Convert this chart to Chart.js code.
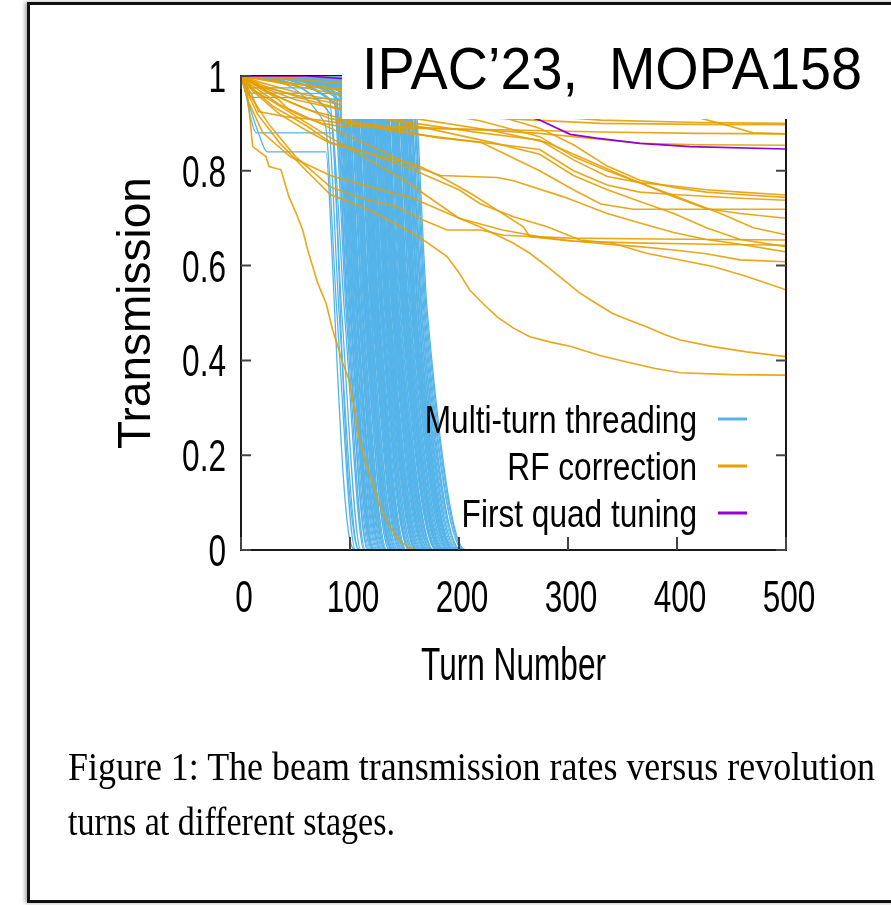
<!DOCTYPE html>
<html>
<head>
<meta charset="utf-8">
<title>Beam transmission vs turn number</title>
<script src="https://cdn.jsdelivr.net/npm/chart.js@4.4.1/dist/chart.umd.min.js"></script>
<style>
  html, body { margin: 0; padding: 0; background: #fff; }
  #page { position: relative; width: 891px; height: 905px; overflow: hidden; background: #fff; }
  #plot { position: absolute; left: 0; top: 0; }
  #note { position: absolute; left: 342px; top: 5px; width: 560px; height: 114px; background: #fff; }
  .fit { position: absolute; white-space: nowrap; transform-origin: 0 0; color: #000; }
  #noteText { left: 362px; top: 40px; font: 59px/59px "Liberation Sans", Arial, sans-serif; }
  .cap { left: 68px; font: 40px/56px "Liberation Serif", "Times New Roman", serif; }
  #frame { position: absolute; left: 27px; top: 2px; width: 900px; height: 901px; box-sizing: border-box;
           border: 3px solid #111; box-shadow: -2px 0 4px rgba(0,0,0,0.35); pointer-events: none; }
</style>
</head>
<body>
<div id="page">
  <canvas id="plot" width="891" height="905"></canvas>
  <div id="note"></div>
  <div id="noteText" class="fit" data-w="500">IPAC’23,&nbsp; MOPA158</div>
  <div class="fit cap" style="top:739px" data-w="807">Figure 1: The beam transmission rates versus revolution</div>
  <div class="fit cap" style="top:794px" data-w="327">turns at different stages.</div>
  <div id="frame"></div>
</div>
<script>
// axis ticks and labels
const turnTicks = [0, 100, 200, 300, 400, 500];
const turnTickLabels = ['0', '100', '200', '300', '400', '500'];
const valueTicks = [0, 0.2, 0.4, 0.6, 0.8, 1];
const valueTickLabels = ['0', '0.2', '0.4', '0.6', '0.8', '1'];
const legendNames = ['Multi-turn threading', 'RF correction', 'First quad tuning'];

// Multi-turn threading runs: level kept before the loss, turn where the loss starts,
// turn at 50 % transmission, turn where transmission reaches 0
const threadLevel = [0.90, 0.93, 0.95, 0.92, 0.97, 0.94, 0.96, 0.98, 0.95, 0.97,
  0.99, 0.96, 0.98, 0.97, 0.99, 0.95, 0.98, 0.96, 0.99, 0.97,
  0.98, 0.96, 0.99, 0.97, 0.98, 0.95, 0.99, 0.97, 0.98, 0.96,
  0.99, 0.97, 0.98, 0.96, 0.99, 0.97, 0.98, 0.95, 0.99, 0.97,
  0.98, 0.96, 0.99, 0.97, 0.98, 0.96, 0.99, 0.97, 0.98, 0.95,
  0.99, 0.97, 0.98, 0.96, 0.99, 0.97, 0.98, 0.96, 0.99, 0.97,
  0.98, 0.95, 0.99, 0.97, 0.98, 0.96, 0.99, 0.97, 0.98, 0.96,
  0.99, 0.97, 0.98, 0.96, 0.99, 0.97, 0.98, 0.98, 0.97, 0.99,
  0.96, 0.98, 0.97, 0.99, 0.97, 0.98, 0.96, 0.98,
  0.96, 0.94, 0.98, 0.97, 0.99, 0.98, 0.97, 0.99, 0.98, 0.97,
  0.99, 0.98, 0.97, 0.99, 0.98, 0.96, 0.99, 0.97, 0.98, 0.99,
  0.97, 0.98, 0.99, 0.97, 0.98, 0.96, 0.99, 0.98, 0.97, 0.99,
  0.98, 0.97, 0.99, 0.98, 0.97, 0.99, 0.98, 0.97, 0.99, 0.98];
const threadTop = [77, 79, 81, 82, 84, 86, 87, 88, 90, 90,
  91, 92, 93, 94, 95, 96, 97, 97, 99, 99,
  100, 102, 102, 103, 105, 105, 106, 108, 108, 109,
  111, 111, 112, 114, 114, 115, 117, 117, 118, 120,
  120, 121, 123, 123, 124, 126, 126, 127, 129, 129,
  130, 132, 132, 133, 135, 135, 136, 138, 138, 139,
  141, 141, 142, 144, 144, 145, 147, 147, 148, 150,
  150, 151, 153, 154, 155, 157, 158, 101, 110, 119,
  128, 137, 146, 113, 131, 140, 104, 122,
  86, 88, 90, 92, 94, 95, 97, 98, 101, 103,
  104, 107, 109, 110, 112, 113, 115, 118, 121, 122,
  124, 125, 127, 128, 130, 131, 134, 136, 137, 139,
  140, 143, 145, 146, 148, 149, 152, 154, 156, 116];
const threadMid = [88, 90, 92.5, 95, 96.5, 98, 99, 100.5, 101, 102.5,
  103, 104, 105.5, 106, 107, 108.5, 109, 110, 111.5, 112,
  113, 114.5, 115, 116, 117.5, 118, 119, 120.5, 121, 122,
  123.5, 124, 125, 126.5, 127, 128, 129.5, 130, 131, 132.5,
  133, 134, 135.5, 136, 137, 138.5, 139, 140, 141.5, 142,
  143, 144.5, 145, 146, 147.5, 148, 149, 150.5, 151, 152,
  153.5, 154, 155, 156.5, 157, 158, 159.5, 160, 161, 162.5,
  163, 164, 165.5, 166, 168, 170, 171, 114, 123, 132,
  141, 150, 159, 126, 144, 153, 117, 135,
  97.5, 100, 102, 104.5, 106.5, 108, 109.5, 111, 113.5, 115.5,
  116.5, 119.5, 121.5, 122.5, 124.5, 125.5, 128.5, 130.5, 133.5, 134.5,
  136.5, 137.5, 139.5, 140.5, 142.5, 143.5, 146.5, 148.5, 149.5, 151.5,
  152.5, 155.5, 157.5, 158.5, 160.5, 162, 164.5, 167, 169, 129];
const threadEnd = [105, 108, 110, 113, 114, 116, 118, 119, 121, 122,
  123, 124, 126, 127, 128, 130, 131, 132, 133, 134,
  136, 137, 138, 140, 141, 142, 144, 145, 146, 147,
  149, 150, 151, 152, 154, 155, 156, 157, 159, 160,
  161, 162, 164, 165, 166, 167, 169, 170, 171, 172,
  174, 175, 176, 177, 179, 180, 181, 182, 184, 185,
  186, 187, 189, 190, 191, 192, 194, 195, 196, 197,
  199, 200, 201, 202, 204, 205, 206, 139, 148, 158,
  170, 183, 193, 151, 174, 186, 142, 163,
  117, 120, 121, 125, 128, 129, 132, 133, 136, 139,
  140, 143, 146, 148, 150, 151, 154, 157, 161, 162,
  164, 166, 168, 169, 172, 173, 176, 179, 180, 183,
  184, 188, 190, 191, 194, 195, 198, 201, 204, 155];
// threading runs with an early plateau, as [turn, transmission]
const threadFlat1 = [[0, 1], [4, 0.97], [8, 0.92], [14, 0.88], [84, 0.88], [88, 0.7], [92, 0.45], [97, 0.2], [104, 0.03], [110, 0], [500, 0]];
const threadFlat2 = [[0, 1], [6, 0.95], [16, 0.88], [24, 0.84], [78, 0.84], [83, 0.65], [88, 0.4], [94, 0.15], [100, 0.02], [106, 0], [500, 0]];
const threadFlat3 = [[0, 1], [4, 0.975], [110, 0.975], [118, 0.6], [124, 0.3], [132, 0.05], [140, 0], [500, 0]];
const threadFlat4 = [[0, 1], [8, 0.964], [130, 0.96], [138, 0.6], [145, 0.25], [155, 0.03], [163, 0], [500, 0]];
const threadFlat5 = [[0, 1], [10, 0.955], [95, 0.95], [102, 0.6], [108, 0.3], [116, 0.05], [123, 0], [500, 0]];

// RF correction runs, as [turn, transmission]
const rfLost = [[0, 1], [4.6, 0.996], [10.7, 0.851], [22.9, 0.83], [25.7, 0.809], [36.7, 0.802], [41.3, 0.766], [44, 0.745], [50.5, 0.711], [56.6, 0.675], [61.2, 0.633], [65.8, 0.598], [70.4, 0.563], [78, 0.521], [84.1, 0.464], [89.9, 0.422], [93.3, 0.395], [99.1, 0.359], [103.7, 0.302], [108.3, 0.238], [114.7, 0.184], [120.8, 0.141], [126.6, 0.099], [134.6, 0.057], [145, 0.021], [153, 0.006], [160, 0], [500, 0]];
const rfA = [[0, 1], [5, 0.97], [15, 0.92], [35, 0.86], [60, 0.80], [82, 0.75], [120, 0.715], [152, 0.675], [170, 0.65], [189, 0.619], [200, 0.585], [210, 0.548], [222, 0.52], [235, 0.492], [250, 0.468], [265, 0.45], [285, 0.438], [302, 0.43], [330, 0.41], [357, 0.395], [380, 0.383], [403, 0.374], [450, 0.37], [500, 0.369]];
const rfB = [[0, 1], [6, 0.95], [20, 0.88], [45, 0.83], [82, 0.79], [120, 0.765], [160, 0.74], [190, 0.71], [219, 0.682], [250, 0.647], [265, 0.626], [281, 0.598], [296, 0.57], [311, 0.542], [326, 0.52], [341, 0.499], [357, 0.484], [372, 0.471], [388, 0.455], [403, 0.443], [433, 0.429], [464, 0.418], [500, 0.408]];
const rfC = [[0, 1], [10, 0.975], [30, 0.935], [60, 0.895], [82, 0.86], [120, 0.835], [160, 0.80], [200, 0.76], [219, 0.731], [250, 0.703], [281, 0.682], [311, 0.654], [341, 0.647], [372, 0.626], [403, 0.612], [433, 0.598], [464, 0.577], [500, 0.549]];
const rfD = [[0, 1], [12, 0.97], [40, 0.93], [82, 0.87], [120, 0.82], [150, 0.78], [175, 0.74], [200, 0.70], [240, 0.675], [274, 0.661], [305, 0.652], [336, 0.645], [366, 0.64], [397, 0.633], [427, 0.625], [458, 0.612], [500, 0.608]];
const rfE = [[0, 1], [10, 0.98], [35, 0.94], [82, 0.89], [130, 0.84], [158, 0.81], [183, 0.79], [235, 0.786], [250, 0.779], [296, 0.745], [336, 0.71], [366, 0.69], [397, 0.67], [427, 0.655], [458, 0.645], [500, 0.629]];
const rfF = [[0, 1], [20, 0.98], [60, 0.95], [110, 0.92], [170, 0.89], [230, 0.86], [274, 0.835], [305, 0.79], [336, 0.76], [366, 0.735], [397, 0.71], [427, 0.68], [458, 0.655], [500, 0.64]];
const rfG = [[0, 1], [10, 0.97], [35, 0.92], [60, 0.885], [82, 0.858], [128, 0.83], [161, 0.813], [183, 0.788], [211, 0.752], [235, 0.717], [259, 0.682], [265, 0.661], [302, 0.652], [360, 0.648], [430, 0.645], [500, 0.643]];
const rfH = [[0, 1], [8, 0.96], [25, 0.90], [50, 0.83], [82, 0.766], [112, 0.741], [143, 0.724], [167, 0.696], [189, 0.675], [220, 0.675], [241, 0.664], [302, 0.658], [380, 0.656], [500, 0.654]];
const rfI = [[0, 1], [15, 0.98], [50, 0.96], [100, 0.935], [160, 0.91], [230, 0.885], [280, 0.86], [320, 0.82], [360, 0.78], [400, 0.745], [440, 0.71], [470, 0.68], [500, 0.665]];
const rfJ = [[0, 1], [25, 0.99], [80, 0.965], [150, 0.935], [220, 0.905], [274, 0.872], [305, 0.83], [336, 0.80], [366, 0.775], [397, 0.745], [427, 0.72], [458, 0.71], [500, 0.70]];
const rfK = [[0, 1], [10, 0.985], [40, 0.95], [82, 0.91], [150, 0.88], [220, 0.86], [274, 0.80], [305, 0.76], [330, 0.73], [360, 0.719], [430, 0.719], [500, 0.719]];
const rfL = [[0, 1], [20, 0.97], [60, 0.93], [110, 0.90], [180, 0.87], [240, 0.855], [274, 0.845], [305, 0.80], [336, 0.77], [366, 0.755], [397, 0.75], [458, 0.742], [500, 0.738]];
const rfM = [[0, 1], [30, 0.99], [90, 0.97], [160, 0.945], [230, 0.92], [274, 0.89], [305, 0.855], [336, 0.81], [366, 0.78], [397, 0.765], [427, 0.755], [458, 0.75], [500, 0.744]];
const rfN = [[0, 1], [15, 0.98], [50, 0.95], [100, 0.925], [160, 0.90], [220, 0.88], [274, 0.865], [305, 0.823], [336, 0.788], [366, 0.775], [397, 0.768], [427, 0.76], [458, 0.755], [500, 0.749]];
const rfP = [[0, 1], [10, 0.96], [16, 0.925], [41, 0.914], [72, 0.907], [93, 0.90], [150, 0.893], [230, 0.885], [274, 0.879], [336, 0.865], [366, 0.858], [420, 0.855], [500, 0.854]];
const rfQ = [[0, 1], [14, 0.985], [26, 0.963], [35, 0.949], [44, 0.928], [57, 0.914], [75, 0.90], [93, 0.893], [150, 0.89], [250, 0.886], [330, 0.882], [420, 0.879], [500, 0.878]];
const rfR = [[0, 1], [20, 0.985], [60, 0.96], [120, 0.935], [180, 0.918], [260, 0.908], [330, 0.90], [420, 0.898], [500, 0.897]];
const rfS = [[0, 1], [30, 0.99], [80, 0.975], [150, 0.955], [220, 0.935], [280, 0.915], [330, 0.907], [420, 0.902], [500, 0.90]];
const rfT = [[0, 1], [40, 0.995], [120, 0.98], [250, 0.96], [380, 0.945], [500, 0.935]];
const rfU = [[0, 1], [60, 0.998], [200, 0.99], [350, 0.975], [500, 0.965]];
const rfV = [[0, 1], [25, 0.99], [100, 0.97], [200, 0.95], [300, 0.93], [410, 0.918], [440, 0.90], [470, 0.88], [500, 0.878]];

// First quad tuning run
const quadRun = [[0, 1], [60, 1], [120, 0.99], [200, 0.96], [250, 0.925], [274, 0.907], [302, 0.877], [326, 0.869], [366, 0.858], [412, 0.851], [500, 0.846]];

const threadColor = 'rgb(86, 180, 233)';
const rfColor = 'rgba(230, 159, 0, 0.9)';
const quadColor = 'rgb(148, 0, 211)';
const legendColors = ['rgb(86, 180, 233)', 'rgb(230, 159, 0)', quadColor];

const helv = '"Liberation Sans", Arial, Helvetica, sans-serif';
const emX = 31.6;

const toPts = run => run.map(p => ({ x: p[0], y: p[1] }));

const rfRuns = [rfLost, rfA, rfB, rfC, rfD, rfE, rfF, rfG, rfH, rfI, rfJ, rfK, rfL, rfM, rfN, rfP, rfQ, rfR, rfS, rfT, rfU, rfV];
const threadFlats = [threadFlat1, threadFlat2, threadFlat3, threadFlat4, threadFlat5];

const datasets = [];
datasets.push({ label: legendNames[2], data: toPts(quadRun), borderColor: quadColor, borderWidth: 1.7, order: 0 });
rfRuns.forEach(run => {
    datasets.push({ label: legendNames[1], data: toPts(run), borderColor: rfColor, borderWidth: 1.6, order: 1 });
});
threadTop.forEach((t, i) => {
    datasets.push({
        label: legendNames[0],
        data: [{ x: 0, y: 1 }, { x: t, y: threadLevel[i] }, { x: threadMid[i], y: 0.5 }, { x: threadEnd[i], y: 0 }, { x: 500, y: 0 }],
        borderColor: threadColor, borderWidth: 1.3, cubicInterpolationMode: 'monotone', order: 2
    });
});
threadFlats.forEach(run => {
    datasets.push({ label: legendNames[0], data: toPts(run), borderColor: threadColor, borderWidth: 1.3, cubicInterpolationMode: 'monotone', order: 2 });
});

const label = (ctx, text, x, y, size, align) => {
    ctx.save();
    ctx.translate(x, y);
    ctx.scale(emX / size, 1);
    ctx.font = size + 'px ' + helv;
    ctx.textAlign = align;
    ctx.textBaseline = 'alphabetic';
    ctx.fillStyle = '#000';
    ctx.fillText(text, 0, 0);
    ctx.restore();
};

const gnuplotFrame = {
    id: 'gnuplotFrame',
    beforeDatasetsDraw(chart) {
        const { ctx, chartArea: a } = chart;
        ctx.save();
        ctx.strokeStyle = '#1a1a1a';
        ctx.lineWidth = 2;
        ctx.strokeRect(a.left, a.top, a.right - a.left, a.bottom - a.top);
        ctx.restore();
    },
    afterDatasetsDraw(chart) {
        const { ctx, chartArea: a, scales: { x, y } } = chart;
        ctx.save();
        ctx.strokeStyle = '#1a1a1a';
        ctx.lineWidth = 2;
        ctx.beginPath();
        ctx.moveTo(a.left, a.top);
        ctx.lineTo(a.left, a.bottom);
        ctx.lineTo(a.right, a.bottom);
        ctx.lineTo(a.right, a.top);
        ctx.stroke();

        ctx.strokeStyle = '#444';
        ctx.beginPath();
        valueTicks.forEach(v => {
            const py = y.getPixelForValue(v);
            ctx.moveTo(a.left, py); ctx.lineTo(a.left + 10, py);
            ctx.moveTo(a.right, py); ctx.lineTo(a.right - 10, py);
        });
        turnTicks.forEach(v => {
            const px = x.getPixelForValue(v);
            ctx.moveTo(px, a.bottom); ctx.lineTo(px, a.bottom - 13);
            ctx.moveTo(px, a.top); ctx.lineTo(px, a.top + 13);
        });
        ctx.stroke();

        valueTicks.forEach((v, i) => {
            label(ctx, valueTickLabels[i], 226, y.getPixelForValue(v) + 16, 45, 'right');
        });
        turnTicks.forEach((v, i) => {
            label(ctx, turnTickLabels[i], x.getPixelForValue(v) + 3, 612, 45, 'center');
        });
        label(ctx, 'Turn Number', (a.left + a.right) / 2, 680, 46, 'center');

        ctx.save();
        ctx.translate(150, (a.top + a.bottom) / 2);
        ctx.rotate(-Math.PI / 2);
        ctx.font = '46px ' + helv;
        ctx.textAlign = 'center';
        ctx.fillStyle = '#000';
        ctx.fillText('Transmission', 0, 0);
        ctx.restore();

        legendNames.forEach((name, i) => {
            const base = 433 + i * 47;
            label(ctx, name, 697, base, 39, 'right');
            ctx.strokeStyle = legendColors[i];
            ctx.lineWidth = 3;
            ctx.beginPath();
            ctx.moveTo(718, base - 14);
            ctx.lineTo(747, base - 14);
            ctx.stroke();
        });
        ctx.restore();
    }
};

new Chart(document.getElementById('plot'), {
    type: 'line',
    data: { datasets },
    options: {
        responsive: false,
        animation: false,
        devicePixelRatio: 1,
        layout: { padding: { left: 241, right: 105, top: 76, bottom: 355 } },
        elements: { point: { radius: 0 }, line: { tension: 0, fill: false } },
        plugins: { legend: { display: false }, tooltip: { enabled: false } },
        scales: {
            x: { type: 'linear', min: 0, max: 500, display: true,
                 grid: { display: false, drawTicks: false }, border: { display: false }, ticks: { display: false } },
            y: { type: 'linear', min: 0, max: 1, display: true,
                 grid: { display: false, drawTicks: false }, border: { display: false }, ticks: { display: false } }
        }
    },
    plugins: [gnuplotFrame]
});

document.querySelectorAll('.fit').forEach(el => {
    const w = el.getBoundingClientRect().width;
    el.style.transform = 'scaleX(' + (parseFloat(el.dataset.w) / w) + ')';
});
</script>
</body>
</html>
